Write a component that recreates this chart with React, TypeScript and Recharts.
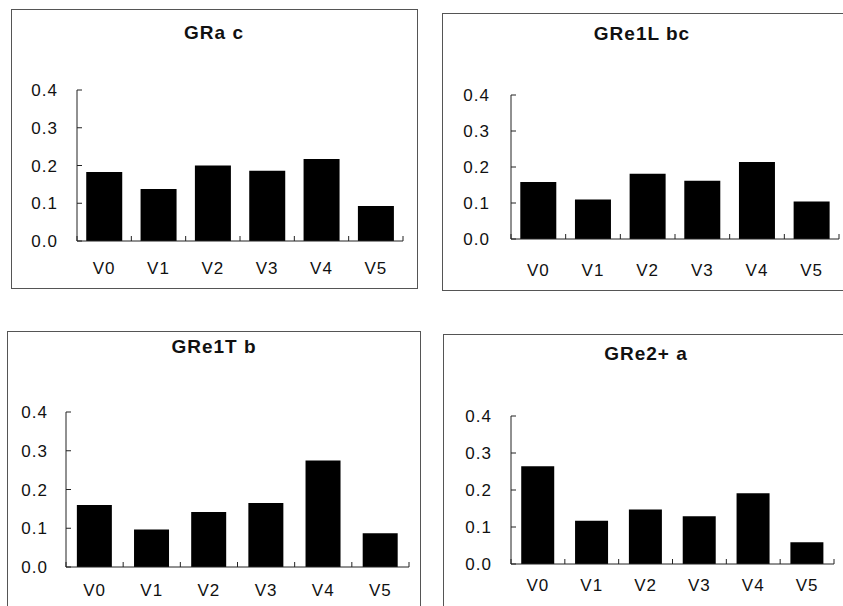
import React from 'react';
import { BarChart, Bar, XAxis, YAxis } from 'recharts';

// ---- data ----
const categories = ['V0', 'V1', 'V2', 'V3', 'V4', 'V5'];
const yTicks = [0, 0.1, 0.2, 0.3, 0.4];
const titles = ['GRa c', 'GRe1L bc', 'GRe1T b', 'GRe2+ a'];
const graC = [0.183, 0.138, 0.2, 0.186, 0.217, 0.093];
const gre1lBc = [0.158, 0.11, 0.181, 0.162, 0.214, 0.104];
const gre1tB = [0.16, 0.097, 0.142, 0.165, 0.275, 0.087];
const gre2A = [0.264, 0.117, 0.147, 0.129, 0.191, 0.059];
const seriesList = [graC, gre1lBc, gre1tB, gre2A];

// ---- layout (page pixel positions) ----
const layouts = [
  { box: { l: 11, t: 9, w: 407, h: 280 }, plot: { l: 77, t: 90, r: 403, b: 241 }, titleX: 214, titleY: 33, labelOff: 27, gap: '17%', yGap: 20 },
  { box: { l: 442, t: 13, w: 410, h: 278 }, plot: { l: 511, t: 95, r: 839, b: 239 }, titleX: 642, titleY: 33.5, labelOff: 31, gap: '17%', yGap: 22 },
  { box: { l: 7, t: 331, w: 414, h: 290 }, plot: { l: 66, t: 412, r: 409, b: 567 }, titleX: 214, titleY: 346.5, labelOff: 23, gap: '19%', yGap: 19 },
  { box: { l: 443, t: 334, w: 410, h: 290 }, plot: { l: 511, t: 416, r: 834, b: 564 }, titleX: 646, titleY: 354, labelOff: 21, gap: '19%', yGap: 20 },
];

const FONT = '"Liberation Sans", Arial, Helvetica, sans-serif';
const AXIS = '#222';
const YW = 50;
const XH = 40;
const TICK_LEN = 5;

function makeCatTick(labelOff: number) {
  return (props: any) => {
    const { x, y, payload, index, visibleTicksCount, width } = props;
    const count = visibleTicksCount || categories.length;
    const half = payload && typeof payload.offset === 'number' && payload.offset > 0 ? payload.offset : width / count / 2;
    const axisY = y - labelOff;
    return (
      <g>
        <line x1={x - half} x2={x - half} y1={axisY} y2={axisY - TICK_LEN} stroke={AXIS} strokeWidth={1} />
        {index === count - 1 && (
          <line x1={x + half} x2={x + half} y1={axisY} y2={axisY - TICK_LEN} stroke={AXIS} strokeWidth={1} />
        )}
        <text x={x} y={y} dy="0.355em" textAnchor="middle" fontFamily={FONT} fontSize={17} fill="#111" letterSpacing={1}>
          {payload.value}
        </text>
      </g>
    );
  };
}

function Panel({ idx }: { idx: number }) {
  const lay = layouts[idx];
  const values = seriesList[idx];
  const data = categories.map((name, i) => ({ name, value: values[i] }));
  const { box, plot } = lay;
  const margin = {
    left: plot.l - box.l - YW,
    right: box.l + box.w - plot.r,
    top: plot.t - box.t,
    bottom: box.t + box.h - plot.b - XH,
  };
  return (
    <>
      <div
        style={{
          position: 'absolute',
          left: box.l,
          top: box.t,
          width: box.w,
          height: box.h,
          border: '1px solid #555',
          boxSizing: 'border-box',
        }}
      />
      <div
        style={{
          position: 'absolute',
          left: lay.titleX - 150,
          top: lay.titleY - 12,
          width: 300,
          height: 24,
          lineHeight: '24px',
          textAlign: 'center',
          fontFamily: FONT,
          fontWeight: 'bold',
          fontSize: 19,
          letterSpacing: 1,
          color: '#111',
        }}
      >
        {titles[idx]}
      </div>
      <div style={{ position: 'absolute', left: box.l, top: box.t }}>
        <BarChart width={box.w} height={box.h} data={data} margin={margin} barCategoryGap={lay.gap}>
          <XAxis
            dataKey="name"
            type="category"
            interval={0}
            height={XH}
            tickLine={false}
            tickSize={0}
            tickMargin={lay.labelOff}
            axisLine={{ stroke: AXIS, strokeWidth: 1 }}
            tick={makeCatTick(lay.labelOff)}
          />
          <YAxis
            type="number"
            domain={[0, 0.4]}
            ticks={yTicks}
            interval={0}
            width={YW}
            tickSize={-TICK_LEN}
            tickMargin={lay.yGap + TICK_LEN - 1}
            tickFormatter={(v: number) => v.toFixed(1)}
            axisLine={{ stroke: AXIS, strokeWidth: 1 }}
            tickLine={{ stroke: AXIS, strokeWidth: 1 }}
            tick={{ fontFamily: FONT, fontSize: 17, fill: '#111', letterSpacing: 1 }}
            allowDataOverflow
          />
          <Bar dataKey="value" fill="#000" isAnimationActive={false} />
        </BarChart>
      </div>
    </>
  );
}

export default function App() {
  return (
    <div
      style={{
        position: 'fixed',
        left: 0,
        top: 0,
        width: 843,
        height: 606,
        overflow: 'hidden',
        background: '#fff',
      }}
    >
      {titles.map((_, i) => (
        <Panel key={i} idx={i} />
      ))}
    </div>
  );
}
